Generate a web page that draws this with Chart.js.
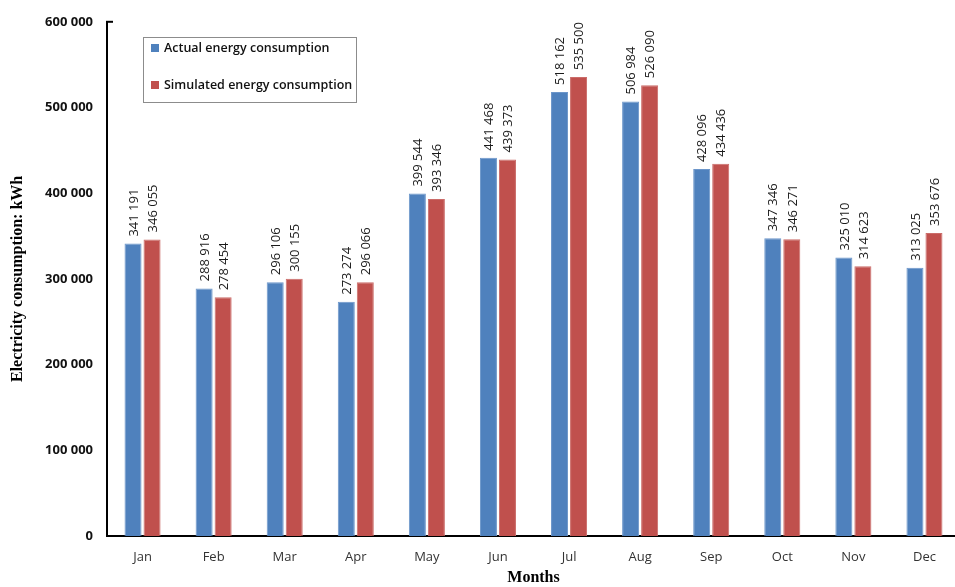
<!DOCTYPE html>
<html>
<head>
<meta charset="utf-8">
<script src="https://cdn.jsdelivr.net/npm/chart.js@4/dist/chart.umd.min.js"></script>
<style>
  html, body { margin: 0; padding: 0; background: #fff; overflow: hidden; }
  #wrap { position: relative; width: 960px; height: 587px; }
</style>
</head>
<body>
<div id="wrap"><canvas id="chart"></canvas></div>
<script>
const months = ['Jan','Feb','Mar','Apr','May','Jun','Jul','Aug','Sep','Oct','Nov','Dec'];
const actualKWh = [341191, 288916, 296106, 273274, 399544, 441468, 518162, 506984, 428096, 347346, 325010, 313025];
const simulatedKWh = [346055, 278454, 300155, 296066, 393346, 439373, 535500, 526090, 434436, 346271, 314623, 353676];
const seriesNames = ['Actual energy consumption', 'Simulated energy consumption'];
const seriesColors = ['#4F81BD', '#C0504D'];
const seriesEdges = ['#6C96CA', '#CB6C69'];

const groupDigits = v => String(v).replace(/\B(?=(\d{3})+(?!\d))/g, ' ');

// Rotated value labels above each bar
const valueLabels = {
  id: 'valueLabels',
  afterDatasetsDraw(chart) {
    const ctx = chart.ctx;
    ctx.save();
    ctx.font = '13px "Open Sans"';
    ctx.fillStyle = '#1a1a1a';
    ctx.textAlign = 'left';
    ctx.textBaseline = 'middle';
    chart.data.datasets.forEach((ds, i) => {
      chart.getDatasetMeta(i).data.forEach((bar, j) => {
        ctx.save();
        ctx.translate(bar.x + 1, bar.y - 7);
        ctx.rotate(-Math.PI / 2);
        ctx.fillText(groupDigits(ds.data[j]), 0, 0);
        ctx.restore();
      });
    });
    ctx.restore();
  }
};

// Boxed legend in the upper-left of the plot, plus the small cap on the value axis
const boxedLegend = {
  id: 'boxedLegend',
  afterDraw(chart) {
    const ctx = chart.ctx;
    const area = chart.chartArea;
    ctx.save();
    ctx.strokeStyle = '#000';
    ctx.lineWidth = 2;
    ctx.beginPath();
    ctx.moveTo(area.left - 1, area.top);
    ctx.lineTo(area.left + 6, area.top);
    ctx.stroke();

    const x = 143, y = 37, w = 213, h = 65;
    ctx.fillStyle = '#fff';
    ctx.fillRect(x, y, w, h);
    ctx.strokeStyle = '#8c8c8c';
    ctx.lineWidth = 1;
    ctx.strokeRect(x + 0.5, y + 0.5, w, h);
    ctx.font = '600 12.5px "Open Sans"';
    ctx.textBaseline = 'middle';
    ctx.textAlign = 'left';
    chart.data.datasets.forEach((ds, i) => {
      const cy = y + 11 + i * 37;
      ctx.fillStyle = ds.backgroundColor;
      ctx.fillRect(x + 8, cy - 4, 8, 8);
      ctx.fillStyle = '#111';
      ctx.fillText(ds.label, x + 21, cy);
    });
    ctx.restore();
  }
};

new Chart(document.getElementById('chart'), {
  type: 'bar',
  data: {
    labels: months,
    datasets: [
      { label: seriesNames[0], data: actualKWh, backgroundColor: seriesColors[0], borderColor: seriesEdges[0], borderWidth: 1 },
      { label: seriesNames[1], data: simulatedKWh, backgroundColor: seriesColors[1], borderColor: seriesEdges[1], borderWidth: 1 }
    ]
  },
  options: {
    responsive: true,
    maintainAspectRatio: false,
    animation: false,
    layout: { padding: { top: 17, right: 0, left: 0, bottom: 0 } },
    datasets: { bar: { categoryPercentage: 0.535, barPercentage: 0.895 } },
    plugins: { legend: { display: false }, tooltip: { enabled: false } },
    scales: {
      x: {
        grid: { display: false, drawTicks: false },
        border: { display: true, color: '#000', width: 2 },
        ticks: { padding: 13, color: '#333', font: { family: 'Open Sans', size: 13 } },
        title: {
          display: true, text: 'Months', color: '#000',
          font: { family: 'Liberation Serif', size: 16, weight: 'bold' },
          padding: { top: 0, bottom: 0 }
        },
        afterFit(scale) { scale.height = 51; }
      },
      y: {
        min: 0, max: 600000,
        grid: { display: false, drawTicks: false },
        border: { display: true, color: '#000', width: 2 },
        ticks: {
          stepSize: 100000, padding: 14, color: '#111',
          font: { family: 'Open Sans', size: 13, weight: 'bold' },
          callback: v => groupDigits(v)
        },
        title: {
          display: true, text: 'Electricity consumption: kWh', color: '#000',
          font: { family: 'Liberation Serif', size: 16, weight: 'bold' },
          padding: { top: 8, bottom: 0 }
        },
        afterFit(scale) { scale.width = 107; }
      }
    }
  },
  plugins: [valueLabels, boxedLegend]
});
</script>
</body>
</html>
